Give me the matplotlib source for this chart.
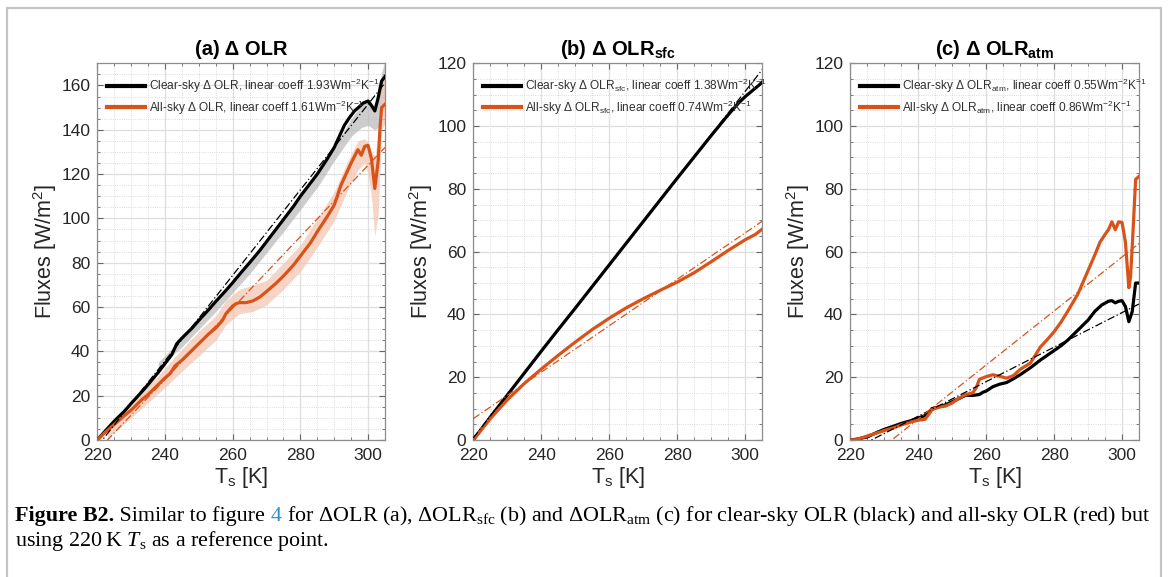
import numpy as np
import matplotlib.pyplot as plt
from matplotlib.patches import Rectangle
from matplotlib.ticker import MultipleLocator

plt.rcParams['font.family'] = ['Liberation Sans', 'DejaVu Sans']
plt.rcParams['mathtext.fontset'] = 'custom'
plt.rcParams['mathtext.rm'] = 'Liberation Serif'
plt.rcParams['mathtext.it'] = 'Liberation Serif:italic'

RED = '#D95319'

# ---- (a) delta OLR ----
ta_clr = [220, 222, 225, 228, 230, 233, 235, 238, 240, 242, 243.5, 245, 248, 250, 253, 255, 258, 260, 263, 265,
          268, 270, 273, 275, 278, 280, 283, 285, 288, 290, 291.5, 293, 294.5, 296, 297.5, 298.5, 300, 301, 302,
          303, 304, 305]
a_clr = [0, 3.5, 8.5, 13, 16.5, 21.5, 25, 30.5, 34.5, 38.5, 43.5, 46, 50.5, 54, 59, 62.5, 67.5, 71, 76.5, 80,
         85.5, 89.5, 95.5, 99.5, 105.5, 110, 116, 120, 127, 132, 137, 142, 145.5, 148.5, 150.5, 152, 153, 151, 148.5,
         154.5, 162, 164]
ta_gray = [238, 245, 255, 265, 275, 285, 290, 295, 298, 300, 302, 303, 304, 305]
a_gray_lo = [33, 42, 58, 75, 94, 114, 126, 137, 141, 142, 140, 141, 148, 152]
a_gray_hi = [35, 46, 62.5, 80, 99.5, 120, 132, 145, 151, 154, 150, 156, 166, 171]

ta_all = [220, 222, 225, 228, 230, 233, 235, 238, 240, 241.5, 243, 245, 247, 250, 253, 255, 257, 258, 260, 261,
          262, 264, 266, 268, 270, 273, 275, 278, 280, 283, 285, 288, 290, 292, 293.5, 295, 296.5, 297, 298, 299,
          300, 301, 302, 303, 303.5, 304, 305]
a_all = [0, 3, 7, 11, 13.5, 18, 20.5, 25, 28, 30, 33.5, 36, 39, 43.5, 48, 50.5, 54, 57, 60.5, 61.5,
         62, 62, 62.8, 64.5, 67, 71, 74, 79, 83, 89, 94, 101, 106, 115, 120, 125, 129.5, 131, 128.5, 132.5,
         133, 127, 113.5, 126, 140, 150, 151.5]
ta_pink = [223, 230, 238, 245, 250, 255, 258, 262, 266, 270, 275, 280, 285, 290, 294, 297, 299, 300, 301, 302,
           303, 304, 305]
a_pink_lo = [1, 10, 21, 31, 38, 45, 52, 57, 58, 61, 68, 76, 87, 99, 113, 122, 125, 120, 110, 92, 102, 140, 143]
a_pink_hi = [6, 17, 29, 41, 49, 56, 63, 68, 70, 72, 80, 88, 100, 112, 126, 135, 136, 134, 130, 128, 138, 158, 166]

# ---- (b) delta OLR_sfc ----
tb = [220, 225, 230, 235, 240, 245, 250, 255, 260, 265, 270, 275, 280, 285, 290, 295, 298, 300, 302, 304, 305]
b_clr = [0, 7.3, 14.3, 21.3, 28.3, 35.2, 42, 48.9, 55.8, 62.7, 69.6, 76.5, 83.4, 90.2, 97.0, 103.6, 107.3,
         109.4, 111.2, 113, 114]
tb_all = [220, 225, 230, 235, 240, 245, 250, 255, 260, 265, 270, 275, 280, 285, 290, 295, 300, 303, 305]
b_all = [0, 6.8, 12.8, 18, 22.6, 27, 31.2, 35.2, 38.8, 42.1, 45, 47.7, 50.3, 53.3, 56.8, 60.4, 63.8, 65.5, 67.2]

# ---- (c) delta OLR_atm ----
tc_clr = [220, 222, 225, 228, 230, 233, 235, 238, 240, 242, 243, 244, 246, 248, 250, 252, 254, 256, 258, 259,
          260, 262, 264, 266, 268, 270, 273, 276, 280, 282, 284, 287, 290, 292, 294, 296, 297, 298, 299, 300,
          301, 302, 303, 304, 305]
c_clr = [0, 0.3, 1, 2.5, 3.4, 4.5, 5.3, 6.2, 7, 7.8, 8.5, 10, 10.5, 11.2, 12.2, 13.2, 14.3, 14.2, 14.5, 15.2,
         15.6, 17, 17.8, 18.3, 19.5, 20.8, 23, 25.5, 28.5, 30, 31.8, 35, 38.2, 41, 43, 44.2, 44.4, 43.7, 44.2, 44.4,
         42.5, 37.7, 40.9, 50, 50]
tc_all = [220, 222, 225, 228, 230, 233, 235, 238, 240, 242, 243, 244, 246, 248, 250, 252, 254, 256, 257, 258,
          260, 262, 264, 266, 268, 270, 273, 276, 278, 280, 282, 284, 287, 290, 292, 293.5, 295, 296, 297, 298,
          299, 300, 301, 302, 302.5, 303, 304, 305]
c_all = [0, 0.2, 1.3, 2.3, 3, 4, 4.8, 5.8, 6.3, 6.6, 8, 9.6, 10.5, 10.8, 11.8, 13.3, 14.5, 15, 16.5, 19.3,
         20.2, 20.8, 20.3, 19.7, 20.5, 22.5, 24.5, 29.7, 32, 34.5, 37.5, 41, 46.5, 54, 59, 63, 65.5, 67, 69.5, 67,
         69.5, 69.3, 63, 48.5, 52, 61.6, 83, 84]

# linear fits: slope, x-intercept
fit_a = [(1.93, 221.5), (1.61, 223.0)]
fit_b = [(1.38, 219.5), (0.74, 210.8)]
fit_c = [(0.55, 226.2), (0.86, 232.2)]
coef_a = ['1.93', '1.61']
coef_b = ['1.38', '0.74']
coef_c = ['0.55', '0.86']

fig = plt.figure(figsize=(11.68, 5.77), dpi=100)

# page frame
fig.add_artist(Rectangle((7 / 1168, -0.05), 1154 / 1168, 1.05 - 8 / 577, transform=fig.transFigure,
                         fill=False, ec='#c4c4c4', lw=1.6))


def setup(ax, ymax, title):
    ax.set_xlim(220, 305)
    ax.set_ylim(0, ymax)
    ax.set_xticks([220, 240, 260, 280, 300])
    ax.yaxis.set_major_locator(MultipleLocator(20))
    ax.xaxis.set_minor_locator(MultipleLocator(5))
    ax.yaxis.set_minor_locator(MultipleLocator(5))
    ax.set_axisbelow(True)
    ax.grid(which='major', color='#dedede', lw=0.9, ls='-')
    ax.grid(which='minor', color='#d0d0d0', lw=0.6, ls=':')
    ax.tick_params(which='both', direction='in', top=True, right=True, color='#666666',
                   labelcolor='#262626', labelsize=12.5)
    ax.tick_params(axis='x', pad=6)
    ax.tick_params(axis='y', pad=5)
    ax.tick_params(which='major', length=4)
    ax.tick_params(which='minor', length=2)
    for s in ax.spines.values():
        s.set_color('#8c8c8c')
        s.set_linewidth(0.9)
    ax.set_xlabel(r'T$\mathregular{_s}$ [K]', fontsize=15.5, color='#262626', labelpad=1)
    ax.set_ylabel(r'Fluxes [W/m$\mathregular{^2}$]', fontsize=15.5, color='#262626', labelpad=2)
    ax.set_title(title, fontsize=14.5, fontweight='bold', pad=6)


def fitline(ax, fit, color):
    tt = np.array([220, 305])
    ax.plot(tt, fit[0] * (tt - fit[1]), ls=(0, (6, 2, 1, 2)), lw=0.9, color=color, zorder=4)


def legend(ax, sub, coefs):
    lab = r'$\mathregular{_{%s}}$' % sub if sub else ''
    unit = r'Wm$\mathregular{^{-2}}$K$\mathregular{^{-1}}$'
    h = [plt.Line2D([], [], color='k', lw=3), plt.Line2D([], [], color=RED, lw=3)]
    labels = ['Clear-sky \u0394 OLR' + lab + ', linear coeff ' + coefs[0] + unit,
              'All-sky \u0394 OLR' + lab + ', linear coeff ' + coefs[1] + unit]
    leg = ax.legend(h, labels, loc='upper left', bbox_to_anchor=(0.0, 0.99), frameon=False, fontsize=8.6,
                    handlelength=3.2, handletextpad=0.3, labelspacing=0.3, borderaxespad=0.4)
    for t in leg.get_texts():
        t.set_color('#303030')


axa = fig.add_axes([0.0833, 0.2374, 0.2463, 0.6529])
axb = fig.add_axes([0.4052, 0.2374, 0.2474, 0.6529])
axc = fig.add_axes([0.7280, 0.2374, 0.2472, 0.6529])

# (a)
setup(axa, 170, '(a) \u0394 OLR')
axa.fill_between(ta_gray, a_gray_lo, a_gray_hi, color='#b8b8b8', alpha=0.7, lw=0)
axa.fill_between(ta_pink, a_pink_lo, a_pink_hi, color='#f3c7b4', alpha=0.75, lw=0)
fitline(axa, fit_a[0], 'k')
fitline(axa, fit_a[1], RED)
axa.plot(ta_clr, a_clr, color='k', lw=2.3, zorder=3)
axa.plot(ta_all, a_all, color=RED, lw=2.3, zorder=3)
legend(axa, '', coef_a)

# (b)
setup(axb, 120, '(b) \u0394 OLR' + r'$\mathregular{_{sfc}}$')
axb.plot(tb, b_clr, color='k', lw=2.3, zorder=3)
axb.plot(tb_all, b_all, color=RED, lw=2.3, zorder=3)
fitline(axb, fit_b[0], 'k')
fitline(axb, fit_b[1], RED)
legend(axb, 'sfc', coef_b)

# (c)
setup(axc, 120, '(c) \u0394 OLR' + r'$\mathregular{_{atm}}$')
axc.plot(tc_clr, c_clr, color='k', lw=2.3, zorder=3)
axc.plot(tc_all, c_all, color=RED, lw=2.3, zorder=3)
fitline(axc, fit_c[0], 'k')
fitline(axc, fit_c[1], RED)
legend(axc, 'atm', coef_c)

# caption
cap_font = ['Liberation Serif', 'DejaVu Serif']
cap_size = 15.8
pieces = [('Figure B2.', 'bold', 'k'), (' Similar to figure ', 'normal', 'k'), ('4', 'normal', '#2a8fc8'),
          (' for \u0394OLR (a), \u0394OLR$\\mathregular{_{sfc}}$ (b) and \u0394OLR$\\mathregular{_{atm}}$ (c) '
           'for clear-sky OLR (black) and all-sky OLR (red) but', 'normal', 'k')]
fig.canvas.draw()
r = fig.canvas.get_renderer()
x = 15 / 1168
for txt, w, c in pieces:
    t = fig.text(x, 1 - 521 / 577, txt, family=cap_font, fontsize=cap_size, fontweight=w, color=c, va='baseline')
    x = fig.transFigure.inverted().transform((t.get_window_extent(r).x1, 0))[0]
fig.text(15 / 1168, 1 - 546 / 577, 'using 220\u2009K $T_\\mathregular{s}$ as a reference point.',
         family=cap_font, fontsize=cap_size, va='baseline')

fig.savefig('out.png', dpi=100)
